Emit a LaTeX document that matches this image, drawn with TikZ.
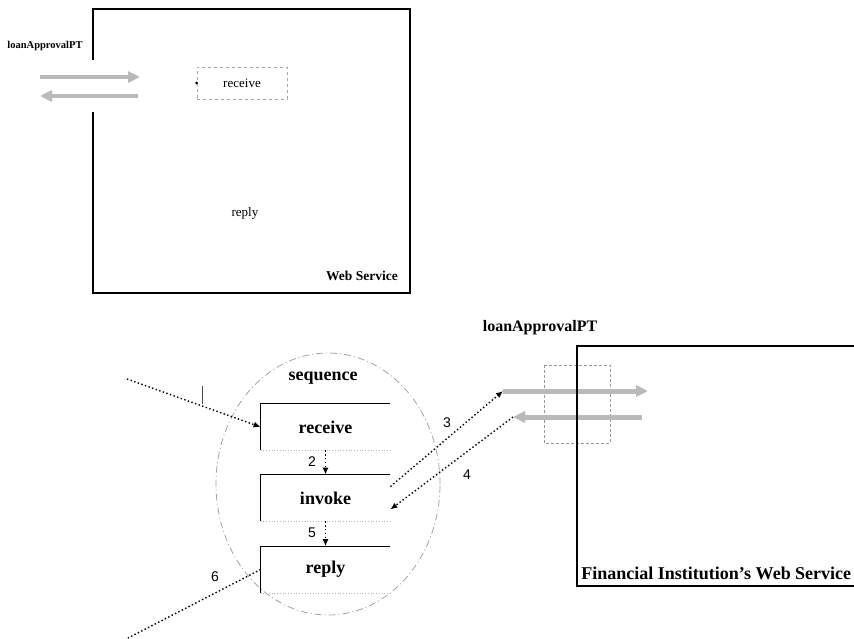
\documentclass[tikz,border=0pt]{standalone}
\usepackage{fontspec}
\setmainfont{Liberation Serif}
\newfontfamily\numfont{Liberation Sans}
\usetikzlibrary{arrows.meta,positioning}
\tikzset{every picture/.style={line width=0.75pt}}
\tikzset{
  actbox/.style={minimum width=129pt,minimum height=46pt,inner sep=0pt,font=\bfseries\fontsize{18}{20}\selectfont},
  numlbl/.style={font=\numfont\fontsize{14}{16}\selectfont,inner sep=1pt},
  msg/.style={dash pattern=on 1.4pt off 2.4pt,line width=1.4pt,-{Latex[length=7pt,width=6pt]}},
  portarrow/.style={line width=5pt,gray!55,-{Triangle[length=12pt,width=11pt]}},
  wsframe/.style={line width=2.6pt}
}

\begin{document}
\begin{tikzpicture}[x=1pt,y=-1pt]
    \useasboundingbox (0,0) rectangle (854,638);
    \fill[white] (0,0) rectangle (854,638);
    \coordinate (treqt) at (40,77); \coordinate (treqh) at (140,77);
    \coordinate (tresh) at (40,96); \coordinate (trest) at (138,96);
    \draw[portarrow,line width=4pt] (treqt) -- (treqh);
    \draw[portarrow,line width=4pt] (trest) -- (tresh);
    \draw[wsframe] (93,60) -- (93,9) -- (410,9) -- (410,293) -- (93,293) -- (93,112);
    \node[font=\bfseries\fontsize{10.5}{12}\selectfont] (tpt) at (45,46) {loanApprovalPT};
    \node[draw=gray!70,dashed,minimum width=90pt,minimum height=32pt,inner sep=0pt,font=\fontsize{13}{15}\selectfont] (trcv) at (242,83) {receive};
    \fill (trcv.west) circle (1.6pt);
    \node[font=\fontsize{13}{15}\selectfont] (trep) at (245,213) {reply};
    \node[font=\bfseries\fontsize{13.5}{15}\selectfont] (tws) at (362,276) {Web Service};
    \node[font=\bfseries\fontsize{16}{18}\selectfont] (bpt) at (540,328) {loanApprovalPT};
    \draw[gray!75,dash pattern=on 7pt off 3pt on 1pt off 3pt] (328,484) ellipse (112pt and 131pt);
    \node[font=\bfseries\fontsize{18}{20}\selectfont] (seq) at (323,378) {sequence};
    \node[actbox] (rcv) at (325.5,427) {receive};
    \node[actbox] (inv) at (325.5,498) {invoke};
    \node[actbox] (rep) at (325.5,569.5) {reply};
    \foreach \b in {rcv,inv,rep} {
        \draw (\b.south west) |- (\b.north east);
        \draw[gray!60,dotted] (\b.south west) -- (\b.south east);
    }
    \coordinate (reqt) at (503,391); \coordinate (reqh) at (648,391);
    \coordinate (resh) at (513,417); \coordinate (rest) at (642,417);
    \draw[gray!80,densely dashed,line width=0.5pt] (544,365) rectangle (610,443);
    \draw[portarrow] (reqt) -- (reqh);
    \draw[portarrow] (rest) -- (resh);
    \draw[wsframe] (854,346) -- (577,346) -- (577,586) -- (854,586);
    \node[anchor=west,inner sep=0pt,font=\bfseries\fontsize{18}{20}\selectfont] (fin) at (581,573) {Financial Institution's Web Service};
    \coordinate (cli) at (127,379); \coordinate (cliout) at (128,638);
    \draw[msg] (cli) -- (rcv.west);
    \draw[gray!60!black,line width=0.5pt] (202,386) -- (202,404);
    \draw[msg] (rcv.south) -- (inv.north);
    \draw[msg] (inv.south) -- (rep.north);
    \draw[msg] (inv.10) -- (reqt);
    \draw[msg] (resh) -- (inv.-10);
    \draw[msg,-] (rep.west) -- (cliout);
    \node[numlbl] (n2) at (312,462) {2};
    \node[numlbl] (n3) at (447,423) {3};
    \node[numlbl] (n4) at (467,475) {4};
    \node[numlbl] (n5) at (312,533) {5};
    \node[numlbl] (n6) at (215,577) {6};
\end{tikzpicture}
\end{document}
